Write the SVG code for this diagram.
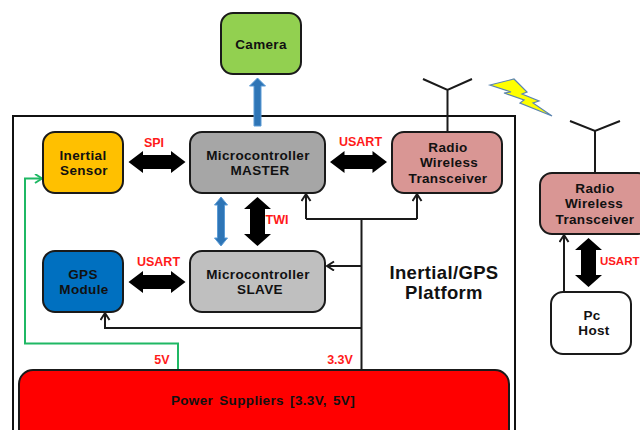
<svg xmlns="http://www.w3.org/2000/svg" width="640" height="430" viewBox="0 0 640 430">
<style>
.n{stroke:#1a1a1a;stroke-width:2}
.t{font-family:"Liberation Sans",Arial,sans-serif;font-weight:700;font-size:13.500px;letter-spacing:.35px;text-anchor:middle;fill:#111}
.r{font-family:"Liberation Sans",Arial,sans-serif;font-weight:700;font-size:12.500px;text-anchor:middle;fill:#ff1a1a}
.l{fill:none;stroke:#1a1a1a;stroke-width:2}
.a{fill:none;stroke:#1a1a1a;stroke-width:2}
.g{fill:none;stroke:#1fb864;stroke-width:2}
</style>
<defs>
<marker id="ah" markerUnits="userSpaceOnUse" markerWidth="12" markerHeight="12" refX="9" refY="5" orient="auto"><path d="M2,0.500 L9,5 L2,9.500" fill="none" stroke="#1a1a1a" stroke-width="2"/></marker>
<marker id="ag" markerUnits="userSpaceOnUse" markerWidth="12" markerHeight="12" refX="9" refY="5" orient="auto"><path d="M2,0.500 L9,5 L2,9.500" fill="none" stroke="#1fb864" stroke-width="2"/></marker>
<path id="dh" d="M-28.500,0 L-14,-11 L-14,-7 L14,-7 L14,-11 L28.500,0 L14,11 L14,7 L-14,7 L-14,11 Z" fill="#000"/>
</defs>
<rect x="13" y="116" width="502" height="330" fill="#fff" stroke="#111" stroke-width="2"/>
<g id="connectors">
<path class="l" d="M361.500 370V219M306 219H417"/>
<path class="a" d="M306 219V194" marker-end="url(#ah)"/>
<path class="a" d="M417 219V194" marker-end="url(#ah)"/>
<path class="a" d="M361.500 266H327" marker-end="url(#ah)"/>
<path class="a" d="M361.500 328H105V313" marker-end="url(#ah)"/>
<path class="g" d="M178 370V343.500H25V178.500H42" marker-end="url(#ag)"/>
<path class="a" d="M564 292V235" marker-end="url(#ah)"/>
<path class="l" d="M447.500 132V90M423 79L447.500 90L472 79M595 172V131M570 121L595 131L620 121"/>
<use href="#dh" x="157" y="162"/>
<use href="#dh" x="358.500" y="162"/>
<use href="#dh" x="157" y="282"/>
<path fill="#000" d="M257.500 197L271 209H265V234H271L257.500 246L244 234H250V209H244Z"/>
<path fill="#000" d="M588.500 238L602 250H596V275H602L588.500 287L575 275H581V250H575Z"/>
<path fill="#2e75b6" stroke="#5b9bd5" d="M221 197L227.500 205H224.500V238H227.500L221 246L214.500 238H217.500V205H214.500Z"/>
<path fill="#2e75b6" stroke="#5b9bd5" d="M257.500 78L265.500 86H261V126H254V86H249.500Z"/>
</g>
<path id="lightning" fill="#ffff00" stroke="#5b84b1" stroke-width="1.200" d="M490 85L514 79L527 92L522 94L539 101L533 103L552 116L520 103L524 100L504 93L511 92Z"/>
<g id="inertial-sensor"><rect class="n" x="43" y="132" width="80" height="61" rx="12" fill="#ffc000"/><text class="t" x="83" y="160">Inertial</text><text class="t" x="84" y="175">Sensor</text></g>
<g id="master"><rect class="n" x="190" y="132" width="135" height="61" rx="12" fill="#a6a6a6"/><text class="t" x="258" y="160">Microcontroller</text><text class="t" x="260" y="175">MASTER</text></g>
<g id="radio-1"><rect class="n" x="392" y="132" width="110" height="61" rx="12" fill="#d99694"/><text class="t" x="448" y="152">Radio</text><text class="t" x="449" y="167">Wireless</text><text class="t" x="448" y="183">Transceiver</text></g>
<g id="gps"><rect class="n" x="43" y="251" width="80" height="61" rx="12" fill="#0070c0"/><text class="t" x="83" y="279">GPS</text><text class="t" x="84" y="294">Module</text></g>
<g id="slave"><rect class="n" x="190" y="251" width="135" height="61" rx="12" fill="#bfbfbf"/><text class="t" x="258" y="279">Microcontroller</text><text class="t" x="260" y="294">SLAVE</text></g>
<g id="camera"><rect class="n" x="221" y="13" width="80" height="61" rx="12" fill="#92d050"/><text class="t" x="261" y="49">Camera</text></g>
<g id="power"><rect class="n" x="19" y="370" width="490" height="80" rx="14" fill="#ff0000"/><text class="t" x="263" y="405" style="word-spacing:2px;letter-spacing:.35px">Power Suppliers [3.3V, 5V]</text></g>
<g id="radio-2"><rect class="n" x="540" y="173" width="110" height="61" rx="12" fill="#d99694"/><text class="t" x="595" y="193">Radio</text><text class="t" x="594" y="208">Wireless</text><text class="t" x="595" y="224">Transceiver</text></g>
<g id="pc-host"><rect class="n" x="551" y="292" width="80" height="62" rx="12" fill="#fff"/><text class="t" x="592" y="320">Pc</text><text class="t" x="594" y="335">Host</text></g>
<g id="labels">
<text class="r" x="154" y="147">SPI</text>
<text class="r" x="360.500" y="146">USART</text>
<text class="r" x="158.500" y="266">USART</text>
<text class="r" x="277" y="224">TWI</text>
<text class="r" style="font-size:11.500px;text-anchor:end" x="639.500" y="265">USART</text>
<text class="r" x="162" y="364">5V</text>
<text class="r" x="340" y="364">3.3V</text>
<text class="t" style="font-size:18.500px" x="444" y="279">Inertial/GPS</text>
<text class="t" style="font-size:18.500px" x="444" y="299">Platform</text>
</g>
</svg>
